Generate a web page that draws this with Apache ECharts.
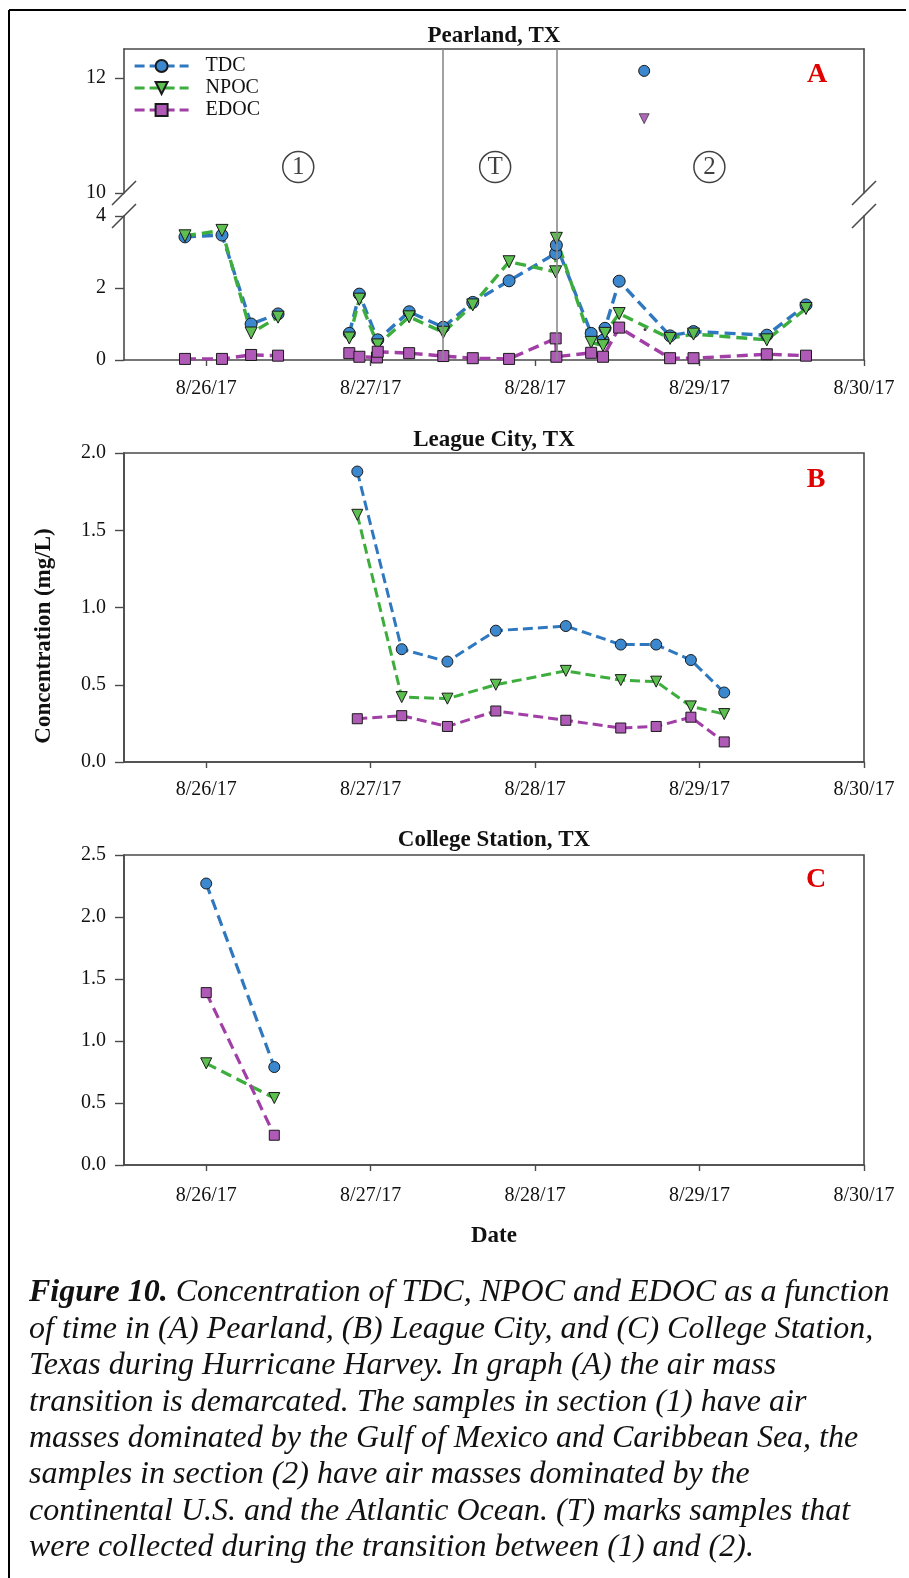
<!DOCTYPE html>
<html>
<head>
<meta charset="utf-8">
<script src="https://cdn.jsdelivr.net/npm/echarts@6.0.0/dist/echarts.min.js"></script>
<style>
html,body{margin:0;padding:0;background:#fff;}
#chart{width:909px;height:1578px;}
</style>
</head>
<body>
<div id="chart"></div>
<script>
// ---------------- DATA ----------------
const tickDays = [0, 1, 2, 3, 4];
const tickLabels = ['8/26/17', '8/27/17', '8/28/17', '8/29/17', '8/30/17'];

// Pearland (panel A) sample times ("M/D HH:MM", 2017)
const pearlandTimes = ['8/25 20:54', '8/26 02:18', '8/26 06:33', '8/26 10:29', '8/26 20:53', '8/26 22:21',
  '8/27 00:55', '8/27 01:02', '8/27 05:37', '8/27 10:36', '8/27 14:54', '8/27 20:12', '8/28 03:00',
  '8/28 03:06', '8/28 08:11', '8/28 09:55', '8/28 10:12', '8/28 12:16', '8/28 19:42', '8/28 23:07',
  '8/29 09:49', '8/29 15:32'];
const pearlandTDC  = [3.42, 3.47, 1.00, 1.28, 0.74, 1.83, null, 0.56, 1.34, 0.91, 1.60, 2.20, 2.96, 3.19, 0.74, 0.55, 0.88, 2.19, 0.67, 0.79, 0.69, 1.53];
const pearlandNPOC = [3.45, 3.60, 0.75, 1.19, 0.61, 1.69, null, 0.42, 1.20, 0.77, 1.53, 2.73, 2.45, 3.38, 0.49, 0.40, 0.74, 1.29, 0.60, 0.72, 0.56, 1.43];
const pearlandEDOC = [0.03, 0.03, 0.14, 0.12, 0.19, 0.09, 0.07, 0.23, 0.19, 0.11, 0.05, 0.03, 0.60, 0.09, 0.20, 0.09, null, 0.90, 0.05, 0.05, 0.16, 0.12];
const pearlandGapBefore = 4;           // sampling gap: lines break before this sample
const pearlandHighTime = '8/28 15:55'; // off-scale sample (upper segment)
const pearlandHighTDC = 12.12;
const pearlandHighTriangle = 11.29;
const pearlandDotTime = '8/28 16:03';
const pearlandDotValue = 0.85;
const dividerTimes = ['8/27 10:36', '8/28 03:10'];
const regionLabels = ['1', 'T', '2'];
const regionLabelTimes = ['8/26 13:26', '8/27 18:10', '8/29 01:26'];
const regionLabelLevel = 10.45;

// League City (panel B)
const leagueTimes = ['8/26 22:03', '8/27 04:32', '8/27 11:12', '8/27 18:16', '8/28 04:29', '8/28 12:30', '8/28 17:40', '8/28 22:44', '8/29 03:36'];
const leagueTDC  = [1.88, 0.73, 0.65, 0.85, 0.88, 0.76, 0.76, 0.66, 0.45];
const leagueNPOC = [1.60, 0.42, 0.41, 0.50, 0.59, 0.53, 0.52, 0.36, 0.31];
const leagueEDOC = [0.28, 0.30, 0.23, 0.33, 0.27, 0.22, 0.23, 0.29, 0.13];

// College Station (panel C)
const collegeTimes = ['8/26 00:00', '8/26 09:56'];
const collegeTDC  = [2.27, 0.79];
const collegeNPOC = [0.82, 0.54];
const collegeEDOC = [1.39, 0.24];

const captionLines = [
  'Concentration of TDC, NPOC and EDOC as a function',
  'of time in (A) Pearland, (B) League City, and (C) College Station,',
  'Texas during Hurricane Harvey. In graph (A) the air mass',
  'transition is demarcated. The samples in section (1) have air',
  'masses dominated by the Gulf of Mexico and Caribbean Sea, the',
  'samples in section (2) have air masses dominated by the',
  'continental U.S. and the Atlantic Ocean. (T) marks samples that',
  'were collected during the transition between (1) and (2).'
];

// ---------------- HELPERS ----------------
const FONT = 'Liberation Serif';
function toDay(s) {
  const parts = s.split(' ');
  const md = parts[0].split('/').map(Number);
  const hm = (parts[1] || '00:00').split(':').map(Number);
  return (md[1] - 26) + hm[0] / 24 + hm[1] / 1440;
}
function pairs(times, vals, gapBefore) {
  const out = [];
  times.forEach((t, i) => {
    if (i === gapBefore) out.push([toDay(t), '-']);
    if (vals[i] !== null && vals[i] !== undefined) out.push([toDay(t), vals[i]]);
  });
  return out;
}
const COL = {
  TDC:  {line: '#2f78bf', fill: '#3b88cf', symbol: 'circle', rot: 0},
  NPOC: {line: '#3dae3d', fill: '#5cbf50', symbol: 'triangle', rot: 180},
  EDOC: {line: '#a23fa6', fill: '#b05ab8', symbol: 'rect', rot: 0}
};
function lineSeries(name, data, xi, yi, width, dash, size) {
  const c = COL[name];
  return {
    type: 'line', name: name, data: data, xAxisIndex: xi, yAxisIndex: yi,
    symbol: c.symbol, symbolRotate: c.rot, symbolSize: name === 'EDOC' ? size - 1 : size,
    showAllSymbol: true, connectNulls: false, animation: false,
    lineStyle: {color: c.line, width: width, type: dash},
    itemStyle: {color: c.fill, borderColor: '#1a1a1a', borderWidth: 1},
    emphasis: {disabled: true}, z: 3
  };
}
const axisLineStyle = {lineStyle: {color: '#4a4a4a', width: 1.6}};
const labelStyle = {color: '#111', fontFamily: FONT, fontSize: 20};
function dateAxis(gridIndex, margin, extra) {
  return Object.assign({
    type: 'value', gridIndex: gridIndex, min: -0.5, max: 4,
    axisLine: Object.assign({show: true, onZero: false}, axisLineStyle),
    axisTick: {show: true, length: 6, customValues: tickDays, lineStyle: {color: '#4a4a4a', width: 1.4}},
    axisLabel: Object.assign({show: true, margin: margin, customValues: tickDays,
      formatter: v => tickLabels[tickDays.indexOf(Math.round(v))]}, labelStyle),
    splitLine: {show: false}
  }, extra || {});
}
function valAxis(gridIndex, min, max, ticks, fmt) {
  return {
    type: 'value', gridIndex: gridIndex, min: min, max: max, position: 'left',
    axisLine: Object.assign({show: true, onZero: false}, axisLineStyle),
    axisTick: {show: true, length: 9, customValues: ticks, lineStyle: {color: '#4a4a4a', width: 1.4}},
    axisLabel: Object.assign({show: true, margin: 18, customValues: ticks, formatter: fmt}, labelStyle),
    splitLine: {show: false}
  };
}
function borderAxis(gridIndex, min, max) {
  return {
    type: 'value', gridIndex: gridIndex, min: min, max: max, position: 'right',
    axisLine: Object.assign({show: true, onZero: false}, axisLineStyle),
    axisTick: {show: false}, axisLabel: {show: false}, splitLine: {show: false}
  };
}

const L = 124, W = 740;
const grids = [
  {left: L, width: W, top: 49, height: 144},                 // 0 A upper
  {left: L, width: W, top: 216, height: 144},                // 1 A lower
  {left: L, width: W, top: 49, height: 311},                 // 2 A frame (dividers)
  {left: L, width: W, top: 453, height: 309, show: true, borderColor: '#4a4a4a', borderWidth: 1.6}, // 3 B
  {left: L, width: W, top: 855, height: 310, show: true, borderColor: '#4a4a4a', borderWidth: 1.6}  // 4 C
];

const xAxes = [
  {type: 'value', gridIndex: 0, min: -0.5, max: 4, position: 'top',
   axisLine: Object.assign({show: true, onZero: false}, axisLineStyle),
   axisTick: {show: false}, axisLabel: {show: false}, splitLine: {show: false}},
  dateAxis(1, 19),
  {type: 'value', gridIndex: 2, min: -0.5, max: 4, show: false, splitLine: {show: false}},
  dateAxis(3, 18),
  dateAxis(4, 21, {name: 'Date', nameLocation: 'middle', nameGap: 60,
    nameTextStyle: {fontFamily: FONT, fontSize: 23, fontWeight: 'bold', color: '#111'}})
];
const yAxes = [
  valAxis(0, 10, 12.5, [10, 12], v => String(v)),   // 0
  borderAxis(0, 10, 12.5),                          // 1
  valAxis(1, 0, 4, [0, 2, 4], v => String(v)),      // 2
  borderAxis(1, 0, 4),                              // 3
  {type: 'value', gridIndex: 2, min: 0, max: 1, show: false, splitLine: {show: false}}, // 4
  valAxis(3, 0, 2, [0, 0.5, 1, 1.5, 2], v => v.toFixed(1)),       // 5
  valAxis(4, 0, 2.5, [0, 0.5, 1, 1.5, 2, 2.5], v => v.toFixed(1)) // 6
];

const dashA = [11, 6], dashB = [10, 5];
const series = [
  lineSeries('TDC',  pairs(pearlandTimes, pearlandTDC,  pearlandGapBefore), 1, 2, 3.4, dashA, 12),
  lineSeries('NPOC', pairs(pearlandTimes, pearlandNPOC, pearlandGapBefore), 1, 2, 3.4, dashA, 12),
  lineSeries('EDOC', pairs(pearlandTimes, pearlandEDOC, pearlandGapBefore), 1, 2, 3.4, dashA, 12),
  lineSeries('TDC',  [[toDay(pearlandHighTime), pearlandHighTDC]], 0, 0, 3.4, dashA, 11),
  {type: 'scatter', name: 'high-NPOC', xAxisIndex: 0, yAxisIndex: 0, symbol: 'triangle', symbolRotate: 180,
   symbolSize: 10, data: [[toDay(pearlandHighTime), pearlandHighTriangle]], animation: false,
   itemStyle: {color: '#9a44a6', borderColor: '#1a1a1a', borderWidth: 0.8}},
  {type: 'scatter', name: 'dot', xAxisIndex: 1, yAxisIndex: 2, symbol: 'circle', symbolSize: 3,
   data: [[toDay(pearlandDotTime), pearlandDotValue]], animation: false, itemStyle: {color: '#111'}},
  {type: 'scatter', name: 'regions', xAxisIndex: 0, yAxisIndex: 0, symbol: 'circle', symbolSize: 31,
   animation: false, silent: true,
   data: regionLabels.map((r, i) => ({value: [toDay(regionLabelTimes[i]), regionLabelLevel], name: r})),
   itemStyle: {color: 'rgba(255,255,255,0)', borderColor: '#111', borderWidth: 1.5},
   label: {show: true, position: 'inside', formatter: p => p.name, color: '#111', fontFamily: FONT, fontSize: 25}},
  {type: 'line', name: 'dividers', xAxisIndex: 2, yAxisIndex: 4, data: [], animation: false, silent: true,
   markLine: {symbol: 'none', silent: true, label: {show: false},
     lineStyle: {color: '#8a8a8a', width: 1.6, type: 'solid'},
     data: dividerTimes.map(t => ({xAxis: toDay(t)}))}},
  lineSeries('TDC',  pairs(leagueTimes, leagueTDC),  3, 5, 3, dashB, 11),
  lineSeries('NPOC', pairs(leagueTimes, leagueNPOC), 3, 5, 3, dashB, 11),
  lineSeries('EDOC', pairs(leagueTimes, leagueEDOC), 3, 5, 3, dashB, 11),
  lineSeries('TDC',  pairs(collegeTimes, collegeTDC),  4, 6, 3.2, dashA, 11),
  lineSeries('NPOC', pairs(collegeTimes, collegeNPOC), 4, 6, 3.2, dashA, 11),
  lineSeries('EDOC', pairs(collegeTimes, collegeEDOC), 4, 6, 3.2, dashA, 11)
];

const chart = echarts.init(document.getElementById('chart'), null, {renderer: 'canvas'});
chart.setOption({
  backgroundColor: '#fff',
  animation: false,
  grid: grids,
  xAxis: xAxes,
  yAxis: yAxes,
  legend: {
    data: ['TDC', 'NPOC', 'EDOC'], orient: 'vertical', left: 128, top: 51,
    itemWidth: 54, itemHeight: 15, itemGap: 2, selectedMode: false,
    lineStyle: {width: 3.2, type: [10, 5]},
    textStyle: {fontFamily: FONT, fontSize: 20, color: '#111', padding: [0, 0, 0, 12]}
  },
  series: series
});

// ---------- decorations placed through the axes' own scales ----------
const xL = chart.convertToPixel({xAxisIndex: 0}, -0.5);
const xR = chart.convertToPixel({xAxisIndex: 0}, 4);
const xMid = (xL + xR) / 2;
const yBreakUp = chart.convertToPixel({yAxisIndex: 0}, 10);
const yBreakLo = chart.convertToPixel({yAxisIndex: 2}, 4);
const yTopA = chart.convertToPixel({yAxisIndex: 0}, 12.5);
const yTopB = chart.convertToPixel({yAxisIndex: 5}, 2);
const yTopC = chart.convertToPixel({yAxisIndex: 6}, 2.5);

function slash(x, y) {
  return {type: 'line', shape: {x1: x - 12, y1: y + 12, x2: x + 12, y2: y - 12},
    style: {stroke: '#4a4a4a', lineWidth: 1.6}, z: 10};
}
const titleStyle = {fontFamily: FONT, fontSize: 23, fontWeight: 'bold', fill: '#111', textAlign: 'center', textVerticalAlign: 'middle'};
const panelLetter = {fontFamily: FONT, fontSize: 28, fontWeight: 'bold', fill: '#e00000', textAlign: 'center', textVerticalAlign: 'middle'};
const graphics = [
  slash(xL, yBreakUp), slash(xL, yBreakLo), slash(xR, yBreakUp), slash(xR, yBreakLo),
  {type: 'text', x: xMid, y: yTopA - 13, style: Object.assign({text: 'Pearland, TX'}, titleStyle)},
  {type: 'text', x: xMid, y: yTopB - 13, style: Object.assign({text: 'League City, TX'}, titleStyle)},
  {type: 'text', x: xMid, y: yTopC - 15, style: Object.assign({text: 'College Station, TX'}, titleStyle)},
  {type: 'text', x: 817, y: 75, style: Object.assign({text: 'A'}, panelLetter)},
  {type: 'text', x: 816, y: 480, style: Object.assign({text: 'B'}, panelLetter)},
  {type: 'text', x: 816, y: 880, style: Object.assign({text: 'C'}, panelLetter)},
  {type: 'text', x: 44, y: 636, rotation: Math.PI / 2,
   style: {text: 'Concentration (mg/L)', fontFamily: FONT, fontSize: 23, fontWeight: 'bold', fill: '#111', textAlign: 'center', textVerticalAlign: 'middle'}},
  // figure frame
  {type: 'line', shape: {x1: 9, y1: 10, x2: 9, y2: 1578}, style: {stroke: '#000', lineWidth: 2}},
  {type: 'line', shape: {x1: 9, y1: 10, x2: 906, y2: 10}, style: {stroke: '#000', lineWidth: 2}}
];
captionLines.forEach((line, i) => {
  const text = i === 0 ? '{b|Figure 10.} ' + line : line;
  graphics.push({
    type: 'text', x: 29, y: 1293 + i * 36.4,
    style: {text: text, fontFamily: FONT, fontSize: 32, fontStyle: 'italic', fill: '#111',
      textVerticalAlign: 'middle',
      rich: {b: {fontFamily: FONT, fontSize: 32, fontStyle: 'italic', fontWeight: 'bold', fill: '#111'}}}
  });
});
chart.setOption({graphic: graphics});
</script>
</body>
</html>
